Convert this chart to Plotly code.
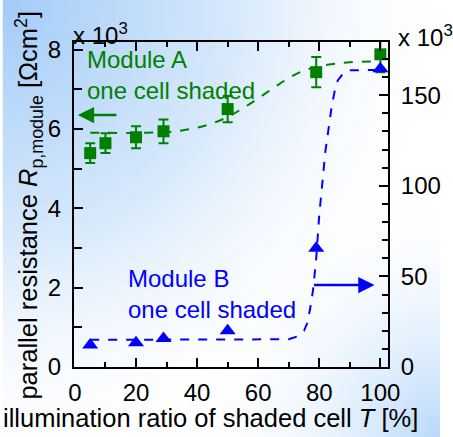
import base64
import plotly.graph_objects as go

# ---------------- data ----------------
# Module A (left axis, x10^3 Ohm cm^2)
a_T = [5, 10, 20, 29, 50, 79, 100]
a_R = [5.39, 5.64, 5.79, 5.94, 6.50, 7.43, 7.88]
a_err = [0.25, 0.25, 0.28, 0.30, 0.33, 0.38, 0.45]
# Module B (right axis, x10^3 Ohm cm^2)
b_T = [5, 20, 29, 50, 79, 100]
b_R = [12.1, 13.4, 15.8, 20.0, 65.5, 164.7]
# dashed guide curves
a_fit_T = [5, 10, 20, 30, 35, 40, 45, 50, 55, 60, 65, 70, 75, 80, 85, 90, 100]
a_fit_R = [5.9, 5.9, 5.9, 5.92, 5.96, 6.03, 6.14, 6.3, 6.52, 6.77, 7.03, 7.28, 7.47, 7.58, 7.64, 7.68, 7.70]
b_fit_T = [5, 20, 40, 60, 70, 73, 75, 76, 77, 78, 79, 80, 81, 82, 83, 84, 85, 86, 88, 90, 100]
b_fit_R = [15, 15, 15, 15, 15.3, 17, 20, 24, 32, 43, 60, 84, 103, 119, 131, 143, 152, 158, 162.5, 163.8, 164]

x_ticks = [0, 20, 40, 60, 80, 100]
yl_ticks = [0, 2, 4, 6, 8]
yr_ticks = [0, 50, 100, 150]

GREEN = "#008000"
BLUE = "#0000ff"
FONT = "Liberation Sans, Arial, sans-serif"

W, H = 453, 437
L, R, T, B = 74, 54, 42, 70
PW, PH = W - L - R, H - T - B

svg = f'''<svg xmlns="http://www.w3.org/2000/svg" width="{W}" height="{H}" viewBox="0 0 {W} {H}">
<defs>
<radialGradient id="a" cx="0" cy="0" r="480" gradientUnits="userSpaceOnUse">
<stop offset="0" stop-color="#a2cbf8"/><stop offset="0.5" stop-color="#d2e6fb" stop-opacity="0.9"/><stop offset="1" stop-color="#ffffff" stop-opacity="0"/>
</radialGradient>
<radialGradient id="b" cx="{W}" cy="{H}" r="260" gradientUnits="userSpaceOnUse">
<stop offset="0" stop-color="#b8d8fb"/><stop offset="1" stop-color="#ffffff" stop-opacity="0"/>
</radialGradient>
</defs>
<rect width="{W}" height="{H}" fill="#ffffff"/>
<rect width="{W}" height="{H}" fill="url(#a)"/>
<rect width="{W}" height="{H}" fill="url(#b)"/>
</svg>'''
bg = "data:image/svg+xml;base64," + base64.b64encode(svg.encode()).decode()

fig = go.Figure()
fig.add_trace(go.Scatter(x=a_fit_T, y=a_fit_R, mode="lines", line=dict(color=GREEN, width=2, dash="dash", shape="spline"),
                         yaxis="y", showlegend=False, hoverinfo="skip"))
fig.add_trace(go.Scatter(x=b_fit_T, y=b_fit_R, mode="lines", line=dict(color=BLUE, width=2, dash="dash"),
                         yaxis="y2", showlegend=False, hoverinfo="skip"))
fig.add_trace(go.Scatter(x=a_T, y=a_R, mode="markers", marker=dict(symbol="square", size=12, color=GREEN),
                         error_y=dict(type="data", array=a_err, color=GREEN, thickness=2, width=5),
                         yaxis="y", showlegend=False))
fig.add_trace(go.Scatter(x=b_T, y=b_R, mode="markers", marker=dict(symbol="triangle-up", size=14, color=BLUE),
                         yaxis="y2", showlegend=False))

axis_common = dict(showgrid=False, zeroline=False, showline=True, linewidth=2, linecolor="black",
                   ticks="inside", tickwidth=2, tickcolor="black",
                   tickfont=dict(family=FONT, size=24, color="black"))

fig.update_layout(
    width=W, height=H, margin=dict(l=L, r=R, t=T, b=B, pad=0),
    paper_bgcolor="rgba(0,0,0,0)", plot_bgcolor="rgba(0,0,0,0)",
    font=dict(family=FONT, color="black"),
    xaxis=dict(range=[-0.3, 102.5], tickvals=x_ticks, ticktext=[str(v) for v in x_ticks], ticklen=9,
               mirror="ticks", minor=dict(dtick=10, tick0=0, ticks="inside", ticklen=5, tickwidth=2, tickcolor="black"),
               ticklabelstandoff=3, **axis_common),
    yaxis=dict(range=[0, 8.19], tickvals=yl_ticks, ticktext=[str(v) for v in yl_ticks], ticklen=9,
               minor=dict(dtick=1, tick0=0, ticks="inside", ticklen=8, tickwidth=2, tickcolor="black"),
               ticklabelstandoff=6, **axis_common),
    yaxis2=dict(range=[0, 179.4], overlaying="y", side="right", tickvals=yr_ticks, ticktext=[str(v) for v in yr_ticks],
                ticklen=9, minor=dict(dtick=10, tick0=0, ticks="inside", ticklen=6, tickwidth=2, tickcolor="black"),
                ticklabelstandoff=6, **axis_common),
    images=[dict(source=bg, xref="paper", yref="paper", x=-L / PW, y=1 + T / PH, sizex=W / PW, sizey=H / PH,
                 xanchor="left", yanchor="top", sizing="stretch", layer="below")],
)

def px(xp):
    return (xp - L) / PW

def py(yp):
    return (H - B - yp) / PH

ann = [
    dict(text="x 10<sup>3</sup>", x=px(71), y=py(34), xanchor="left", yanchor="middle", font=dict(size=24)),
    dict(text="x 10<sup>3</sup>", x=px(407), y=py(36), xanchor="left", yanchor="middle", font=dict(size=24)),
    dict(text="Module A<br>one cell shaded", x=px(85), y=py(75), xanchor="left", yanchor="middle", align="left",
         font=dict(size=24, color=GREEN)),
    dict(text="Module B<br>one cell shaded", x=px(128), y=py(294), xanchor="left", yanchor="middle", align="left",
         font=dict(size=24, color=BLUE)),
    dict(text="parallel resistance <i>R</i><sub>p,module</sub> [Ωcm<sup>2</sup>]", x=px(27), y=py(205),
         xanchor="center", yanchor="middle", textangle=-90, font=dict(size=25.5)),
    dict(text="illumination ratio of shaded cell <i>T</i> [%]", x=px(215), y=py(418),
         xanchor="center", yanchor="middle", font=dict(size=25.5)),
]
for a in ann:
    a.update(xref="paper", yref="paper", showarrow=False)
    a["font"] = dict(family=FONT, color=a["font"].get("color", "black"), size=a["font"]["size"])

# arrows
ann.append(dict(x=px(78), y=py(115), ax=40, ay=0, xref="paper", yref="paper", text="", showarrow=True,
                arrowhead=2, arrowsize=1.3, arrowwidth=2.5, arrowcolor=GREEN))
ann.append(dict(x=px(385), y=py(285), ax=-62, ay=0, xref="paper", yref="paper", text="", showarrow=True,
                arrowhead=2, arrowsize=1.3, arrowwidth=2.5, arrowcolor=BLUE))
fig.update_layout(annotations=ann)

fig.write_html("out.html", config={"displayModeBar": False},
               post_script="document.body.style.margin='0';document.body.style.overflow='hidden';")
